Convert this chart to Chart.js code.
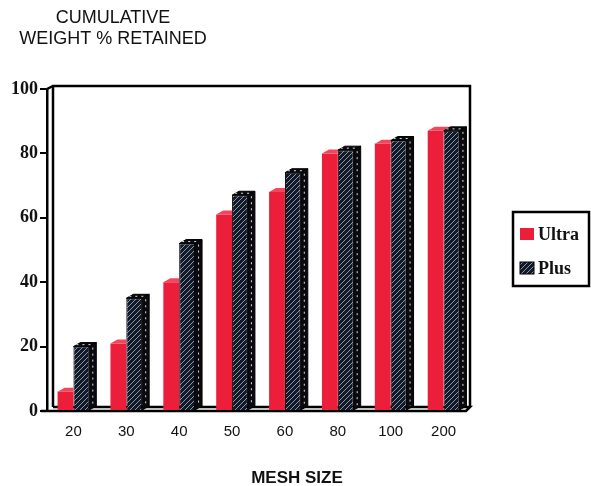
<!DOCTYPE html>
<html>
<head>
<meta charset="utf-8">
<script src="https://cdn.jsdelivr.net/npm/chart.js@4/dist/chart.umd.min.js"></script>
<style>
  html, body { margin: 0; padding: 0; background: #fff; }
  #wrap { width: 591px; height: 486px; position: relative; }
</style>
</head>
<body>
<div id="wrap"><canvas id="c" width="591" height="486"></canvas></div>
<script>
const categories = ['20', '30', '40', '50', '60', '80', '100', '200'];
const ultraValues = [6, 21, 40, 61, 68, 80, 83, 87];
const plusValues = [20, 35, 52, 67, 74, 81, 84, 87];
const yTickValues = [0, 20, 40, 60, 80, 100];
const titleLines = ['CUMULATIVE', 'WEIGHT % RETAINED'];
const xTitle = 'MESH SIZE';
const seriesNames = ['Ultra', 'Plus'];

const RED = '#ec1f3b';
const RED_TOP = '#f2465c';
const DX = 7, DY = 4;

// hatch pattern for "Plus"
function makeHatch() {
  const p = document.createElement('canvas');
  p.width = 5; p.height = 5;
  const g = p.getContext('2d');
  g.fillStyle = '#131925';
  g.fillRect(0, 0, 5, 5);
  g.strokeStyle = '#93a7c6';
  g.lineWidth = 0.9;
  g.beginPath();
  g.moveTo(0, 5); g.lineTo(5, 0);
  g.moveTo(-1, 1); g.lineTo(1, -1);
  g.moveTo(4, 6); g.lineTo(6, 4);
  g.stroke();
  return document.getElementById('c').getContext('2d').createPattern(p, 'repeat');
}
const hatch = makeHatch();

const decor = {
  id: 'decor',
  beforeDatasetsDraw(chart) {
    const ctx = chart.ctx;
    const a = chart.chartArea;
    ctx.save();
    ctx.strokeStyle = '#000';
    ctx.lineWidth = 2.5;
    ctx.beginPath();
    ctx.moveTo(a.left, a.top);
    ctx.lineTo(a.left + DX - 1, a.top - DY + 1);
    ctx.lineTo(a.right, a.top - DY + 1);
    ctx.lineTo(a.right, a.bottom - DY);
    ctx.stroke();
    ctx.beginPath();
    ctx.moveTo(a.left + DX - 1, a.top - DY + 1);
    ctx.lineTo(a.left + DX - 1, a.bottom - DY);
    ctx.stroke();
    ctx.beginPath();
    ctx.moveTo(a.left + DX - 1, a.bottom - DY);
    ctx.lineTo(a.right, a.bottom - DY);
    ctx.lineTo(a.right - 4, a.bottom);
    ctx.lineTo(a.left - 6, a.bottom);
    ctx.stroke();
    ctx.restore();
  },
  afterDatasetsDraw(chart) {
    const ctx = chart.ctx;
    const mu = chart.getDatasetMeta(0);
    const mp = chart.getDatasetMeta(1);
    ctx.save();
    mu.data.forEach((bar, i) => {
      const {x, y, width} = bar.getProps(['x', 'y', 'width'], true);
      const l = x - width / 2, r = x + width / 2;
      const full = ultraValues[i] >= plusValues[i];
      ctx.beginPath();
      ctx.moveTo(l, y);
      ctx.lineTo(l + DX, y - DY);
      ctx.lineTo(full ? r + DX : r, y - DY);
      ctx.lineTo(r, y);
      ctx.closePath();
      ctx.fillStyle = RED_TOP;
      ctx.fill();
    });
    mp.data.forEach((bar) => {
      const {x, y, width, base} = bar.getProps(['x', 'y', 'width', 'base'], true);
      const l = x - width / 2, r = x + width / 2;
      ctx.fillStyle = '#0a0a0e';
      ctx.strokeStyle = '#000';
      ctx.lineWidth = 1;
      ctx.beginPath();
      ctx.moveTo(l, y);
      ctx.lineTo(l + DX, y - DY);
      ctx.lineTo(r + DX, y - DY);
      ctx.lineTo(r, y);
      ctx.closePath();
      ctx.fill(); ctx.stroke();
      ctx.beginPath();
      ctx.moveTo(r, y);
      ctx.lineTo(r + DX, y - DY);
      ctx.lineTo(r + DX, base - DY);
      ctx.lineTo(r, base);
      ctx.closePath();
      ctx.fill(); ctx.stroke();
      ctx.strokeStyle = '#d8dde8';
      ctx.lineWidth = 1;
      ctx.setLineDash([2, 4]);
      ctx.beginPath();
      ctx.moveTo(r + DX / 2, y - DY / 2 + 3);
      ctx.lineTo(r + DX / 2, base - DY / 2 - 2);
      ctx.stroke();
      ctx.beginPath();
      ctx.moveTo(l + 3, y - DY / 2);
      ctx.lineTo(r + 2, y - DY / 2);
      ctx.stroke();
      ctx.setLineDash([]);
    });
    ctx.restore();
  },
  afterDraw(chart) {
    const ctx = chart.ctx;
    ctx.save();
    ctx.fillStyle = '#111';
    ctx.textAlign = 'center';
    ctx.textBaseline = 'middle';
    ctx.font = '18px "Liberation Sans", Arial, sans-serif';
    ctx.fillText(titleLines[0], 113, 18);
    ctx.fillText(titleLines[1], 113, 39);
    ctx.font = 'bold 17px "Liberation Sans", Arial, sans-serif';
    ctx.fillText(xTitle, 297, 478);
    ctx.lineWidth = 2.5;
    ctx.strokeStyle = '#000';
    ctx.fillStyle = '#fff';
    ctx.fillRect(513, 212, 76, 74);
    ctx.strokeRect(513, 212, 76, 74);
    ctx.fillStyle = RED;
    ctx.fillRect(520, 228, 14, 12);
    ctx.fillStyle = hatch;
    ctx.fillRect(520, 262, 14, 12);
    ctx.lineWidth = 1;
    ctx.strokeRect(520, 262, 14, 12);
    ctx.fillStyle = '#111';
    ctx.textAlign = 'left';
    ctx.font = 'bold 18px "Liberation Serif", "Times New Roman", serif';
    ctx.fillText(seriesNames[0], 538, 235);
    ctx.fillText(seriesNames[1], 538, 269);
    ctx.restore();
  }
};

new Chart(document.getElementById('c'), {
  type: 'bar',
  data: {
    labels: categories,
    datasets: [
      {
        label: seriesNames[0],
        data: ultraValues,
        backgroundColor: RED,
        borderWidth: 0,
        barPercentage: 1,
        categoryPercentage: 0.6
      },
      {
        label: seriesNames[1],
        data: plusValues,
        backgroundColor: hatch,
        borderColor: '#000',
        borderWidth: 1,
        barPercentage: 1,
        categoryPercentage: 0.6
      }
    ]
  },
  options: {
    responsive: false,
    animation: false,
    devicePixelRatio: 1,
    layout: { padding: { left: 0, right: 121, top: 89, bottom: 0 } },
    plugins: {
      legend: { display: false },
      title: { display: false },
      tooltip: { enabled: false }
    },
    scales: {
      x: {
        grid: { display: false },
        border: { display: false },
        ticks: {
          color: '#111',
          padding: 4,
          maxRotation: 0,
          font: { family: '"Liberation Sans", Arial, sans-serif', size: 15 }
        },
        afterFit(s) { s.height = 75; }
      },
      y: {
        min: 0,
        max: 100,
        afterBuildTicks(s) { s.ticks = yTickValues.map(v => ({ value: v })); },
        grid: {
          drawOnChartArea: false,
          drawTicks: true,
          tickLength: 7,
          color: '#000',
          lineWidth: 2
        },
        border: { display: true, color: '#000', width: 2.5 },
        ticks: {
          color: '#111',
          padding: 2,
          font: { family: '"Liberation Serif", "Times New Roman", serif', size: 18, weight: 'bold' }
        },
        afterFit(s) { s.width = 47; }
      }
    }
  },
  plugins: [decor]
});
</script>
</body>
</html>
